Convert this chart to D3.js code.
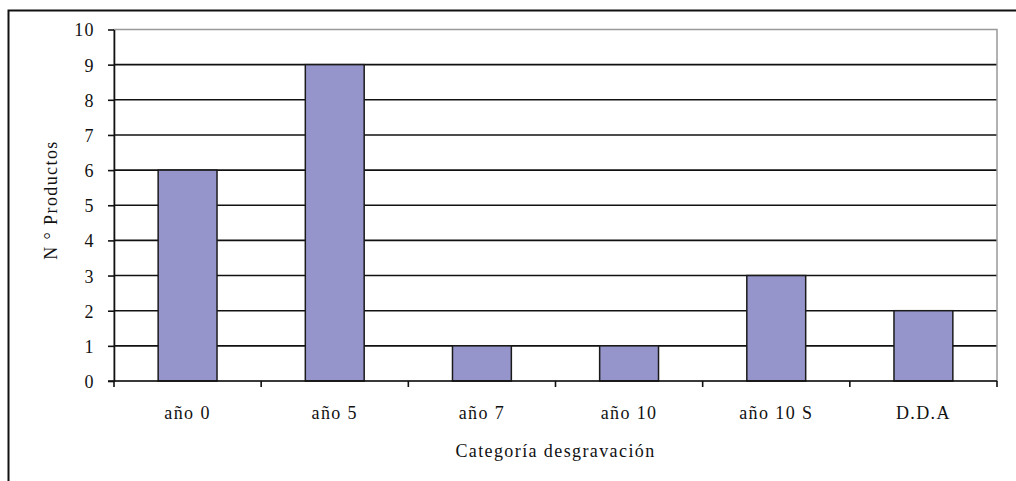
<!DOCTYPE html>
<html>
<head>
<meta charset="utf-8">
<script src="https://cdn.jsdelivr.net/npm/d3@7"></script>
<style>
  body { margin: 0; background: #fff; }
  svg text { font-family: "Liberation Serif", "Times New Roman", serif; font-size: 18px; letter-spacing: 1.4px; fill: #111; }
</style>
</head>
<body>
<script>
// data
var categories = ['año 0', 'año 5', 'año 7', 'año 10', 'año 10 S', 'D.D.A'];
var products = [6, 9, 1, 1, 3, 2];
var yTicks = [0, 1, 2, 3, 4, 5, 6, 7, 8, 9, 10];
var xTitle = 'Categoría desgravación';
var yTitle = 'N ° Productos';

var W = 1016, H = 481;
var plotLeft = 114, plotRight = 997, plotTop = 29.5, plotBottom = 381;

var svg = d3.select('body')
  .append('svg')
  .attr('width', W)
  .attr('height', H);

// outer frame, runs off the right/bottom edge
svg.append('rect')
  .attr('x', 8.5)
  .attr('y', 10.5)
  .attr('width', 1100)
  .attr('height', 600)
  .attr('fill', 'none')
  .attr('stroke', '#111')
  .attr('stroke-width', 2);

var x = d3.scaleBand()
  .domain(categories)
  .range([plotLeft, plotRight])
  .paddingInner(0.6)
  .paddingOuter(0.3);

var y = d3.scaleLinear()
  .domain([0, 10])
  .range([plotBottom, plotTop]);

// gridlines
svg.selectAll('.grid')
  .data(yTicks.filter(d => d > 0 && d < 10))
  .enter()
  .append('line')
  .attr('class', 'grid')
  .attr('x1', plotLeft)
  .attr('x2', plotRight)
  .attr('y1', d => y(d))
  .attr('y2', d => y(d))
  .attr('stroke', '#111')
  .attr('stroke-width', 1.6);

// plot area border (grey)
svg.append('rect')
  .attr('x', plotLeft)
  .attr('y', y(10))
  .attr('width', plotRight - plotLeft)
  .attr('height', plotBottom - y(10))
  .attr('fill', 'none')
  .attr('stroke', '#999')
  .attr('stroke-width', 1.5);

// bars
svg.selectAll('.bar')
  .data(products)
  .enter()
  .append('rect')
  .attr('class', 'bar')
  .attr('x', (d, i) => x(categories[i]))
  .attr('y', d => y(d))
  .attr('width', x.bandwidth())
  .attr('height', d => plotBottom - y(d))
  .attr('fill', '#9595cc')
  .attr('stroke', '#1a1a1a')
  .attr('stroke-width', 1.5);

// y axis
var yAxis = svg.append('g')
  .attr('transform', 'translate(' + plotLeft + ',0)')
  .call(d3.axisLeft(y).tickValues(yTicks).tickSize(6).tickPadding(13).tickSizeOuter(0));
yAxis.select('.domain').attr('stroke', '#111').attr('stroke-width', 1.6);
yAxis.selectAll('.tick line').attr('stroke', '#111').attr('stroke-width', 1.6);
yAxis.selectAll('text').attr('font-size', null).attr('font-family', null).attr('dy', '0.36em');
yAxis.attr('font-size', null).attr('font-family', null);

// x axis line and ticks between categories
var step = x.step();
var boundaries = d3.range(categories.length + 1).map(i => plotLeft + i * step);
svg.append('line')
  .attr('x1', plotLeft - 6)
  .attr('x2', plotRight)
  .attr('y1', plotBottom)
  .attr('y2', plotBottom)
  .attr('stroke', '#111')
  .attr('stroke-width', 1.6);
svg.selectAll('.xtick')
  .data(boundaries)
  .enter()
  .append('line')
  .attr('class', 'xtick')
  .attr('x1', d => d)
  .attr('x2', d => d)
  .attr('y1', plotBottom)
  .attr('y2', plotBottom + 6)
  .attr('stroke', '#111')
  .attr('stroke-width', 1.6);

svg.selectAll('.xlabel')
  .data(categories)
  .enter()
  .append('text')
  .attr('class', 'xlabel')
  .attr('x', d => x(d) + x.bandwidth() / 2)
  .attr('y', 419)
  .attr('text-anchor', 'middle')
  .text(d => d);

// axis titles
svg.append('text')
  .attr('x', (plotLeft + plotRight) / 2)
  .attr('y', 457)
  .attr('text-anchor', 'middle')
  .text(xTitle);

svg.append('text')
  .attr('transform', 'translate(57,' + 200 + ') rotate(-90)')
  .attr('text-anchor', 'middle')
  .text(yTitle);
</script>
</body>
</html>
